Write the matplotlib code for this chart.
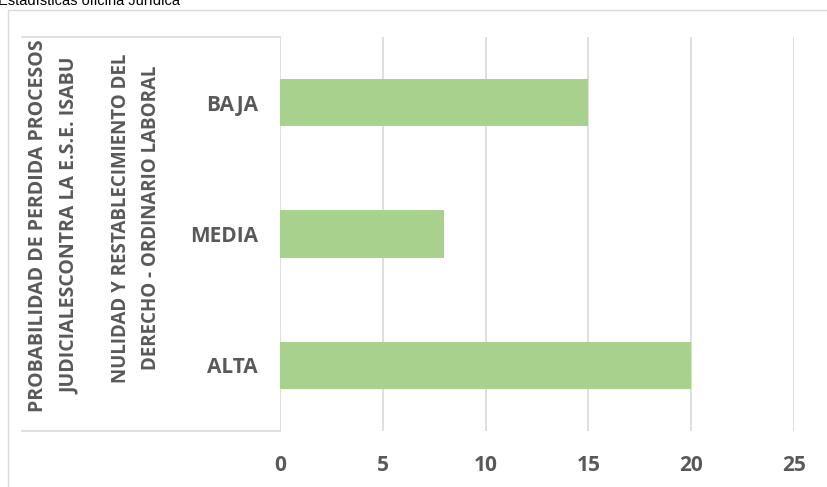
import matplotlib
matplotlib.use("Agg")
import matplotlib.pyplot as plt
from matplotlib.lines import Line2D

# Data ---------------------------------------------------------------
categories = ['ALTA', 'MEDIA', 'BAJA']
values = [20, 8, 15]
x_ticks = [0, 5, 10, 15, 20, 25]
level2_label = 'NULIDAD Y RESTABLECIMIENTO DEL\nDERECHO - ORDINARIO LABORAL'
level1_label = 'PROBABILIDAD DE PERDIDA PROCESOS\nJUDICIALESCONTRA LA E.S.E. ISABU'
title = 'Estadísticas oficina Jurídica'

# Style --------------------------------------------------------------
W, H = 827, 487
txt_col = '#595959'
grid_col = '#D9D9D9'
bar_col = '#A9D18E'
plt.rcParams['font.family'] = ['Open Sans', 'DejaVu Sans']

fig = plt.figure(figsize=(W / 100, H / 100), dpi=100)

def fx(px):
    return px / W

def fy(py):
    return 1 - py / H

ax = fig.add_axes([fx(280), fy(431), fx(794) - fx(280), fy(37) - fy(431)])

ax.barh(range(len(categories)), values, height=0.36, color=bar_col, zorder=3)

ax.set_xlim(0, 25)
ax.set_ylim(-0.5, len(categories) - 0.5)
ax.set_xticks(x_ticks)
ax.set_xticklabels([str(t) for t in x_ticks])
ax.set_yticks(range(len(categories)))
ax.set_yticklabels(categories)
ax.tick_params(axis='both', length=0, labelsize=15, labelcolor=txt_col)
ax.tick_params(axis='y', pad=16)
ax.tick_params(axis='x', pad=17)
for lab in ax.get_xticklabels() + ax.get_yticklabels():
    lab.set_fontweight('bold')

ax.grid(axis='x', color=grid_col, linewidth=1.2, zorder=0)
for s in ax.spines.values():
    s.set_visible(False)

# multi-level category table lines
for py in (37, 431):
    fig.add_artist(Line2D([fx(22), fx(280)], [fy(py), fy(py)],
                          transform=fig.transFigure, color=grid_col, linewidth=1.2))

# outer chart border
fig.add_artist(Line2D([fx(8), fx(8), 1.0], [0.0, fy(9.5), fy(9.5)],
                      transform=fig.transFigure, color=grid_col, linewidth=1.0))

# category group labels (rotated)
fig.text(fx(136), fy(218), level2_label, rotation=90, ha='center', va='center',
         ma='center', fontsize=13.5, fontweight='bold', color=txt_col, linespacing=1.65)
fig.text(fx(54), fy(226), level1_label, rotation=90, ha='center', va='center',
         ma='center', fontsize=14, fontweight='bold', color=txt_col, linespacing=1.85)

# clipped title at the top
fig.text(fx(-2), fy(5), title, ha='left', va='baseline', fontsize=10.5,
         family='Liberation Sans', color='#000000')

fig.savefig('out.png', dpi=100)
